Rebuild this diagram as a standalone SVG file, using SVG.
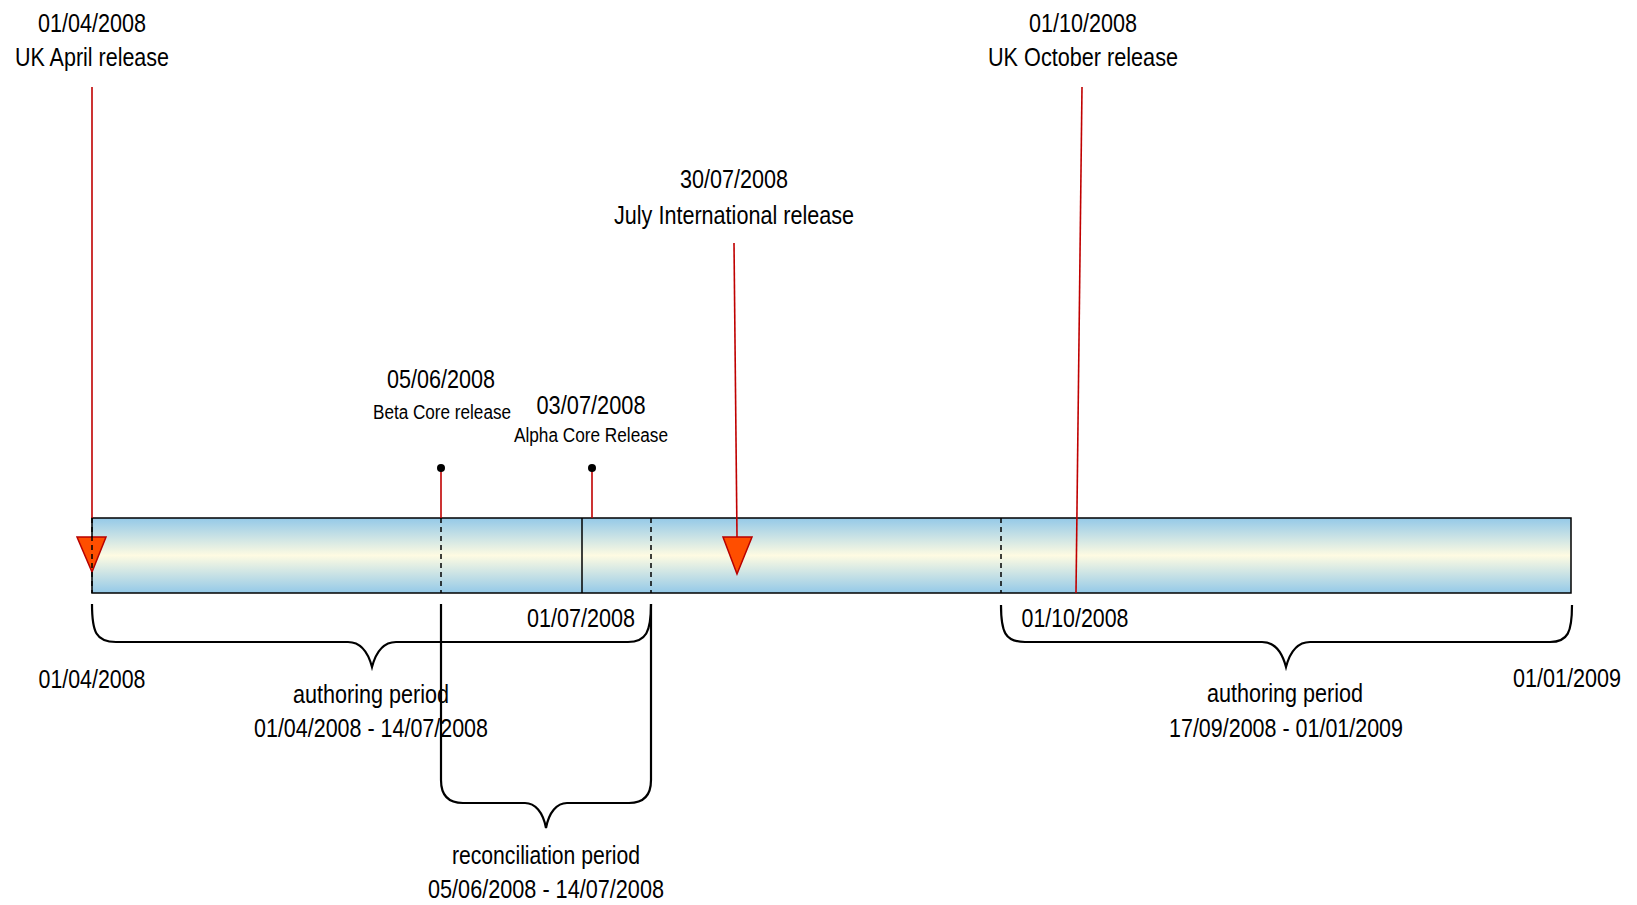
<svg xmlns="http://www.w3.org/2000/svg" width="1637" height="905" viewBox="0 0 1637 905">
<style>
text{font-family:"Liberation Sans",Arial,sans-serif;fill:#000;text-anchor:middle;}
.big{font-size:26.5px;}
.sm{font-size:19.5px;}
.red{stroke:#c00000;stroke-width:1.6;fill:none;}
.dash{stroke:#000;stroke-width:1.5;stroke-dasharray:5,4;fill:none;}
.brace{stroke:#000;stroke-width:2.2;fill:none;}
.tri{fill:#ff4e00;stroke:#b80000;stroke-width:1.5;}
</style>
<defs>
<linearGradient id="barGrad" x1="0" y1="0" x2="0" y2="1">
<stop offset="0" stop-color="#94c9e8"/>
<stop offset="0.5" stop-color="#fefbe2"/>
<stop offset="1" stop-color="#94c9e8"/>
</linearGradient>
</defs>
<rect width="1637" height="905" fill="#fff"/>
<g id="timeline-bar">
<rect x="92" y="518" width="1479" height="75" fill="url(#barGrad)" stroke="#000" stroke-width="1.5"/>
</g>
<g id="connectors">
<line class="red" x1="92" y1="87" x2="92" y2="518"/>
<line class="red" x1="734" y1="243" x2="737" y2="537"/>
<line class="red" x1="441" y1="468" x2="441" y2="518"/>
<line class="red" x1="592" y1="468" x2="592" y2="518"/>
</g>
<g id="uk-april-release">
<polygon class="tri" points="77,537 106,537 92,572"/>
<line class="dash" x1="92" y1="518" x2="92" y2="593"/>
<text class="big" x="92" y="32" textLength="108" lengthAdjust="spacingAndGlyphs">01/04/2008</text>
<text class="big" x="92" y="66" textLength="154" lengthAdjust="spacingAndGlyphs">UK April release</text>
</g>
<g id="beta-core-release">
<circle cx="441" cy="468" r="4" fill="#000"/>
<line class="dash" x1="441" y1="518" x2="441" y2="593"/>
<text class="big" x="441" y="388" textLength="108" lengthAdjust="spacingAndGlyphs">05/06/2008</text>
<text class="sm" x="442" y="419" textLength="138" lengthAdjust="spacingAndGlyphs">Beta Core release</text>
</g>
<g id="alpha-core-release">
<circle cx="592" cy="468" r="4" fill="#000"/>
<text class="big" x="591" y="414" textLength="109" lengthAdjust="spacingAndGlyphs">03/07/2008</text>
<text class="sm" x="591" y="442" textLength="154" lengthAdjust="spacingAndGlyphs">Alpha Core Release</text>
</g>
<g id="july-marker">
<line x1="582" y1="518" x2="582" y2="593" stroke="#000" stroke-width="1.5"/>
<text class="big" x="581" y="627" textLength="108" lengthAdjust="spacingAndGlyphs">01/07/2008</text>
</g>
<g id="recon-end">
<line class="dash" x1="651" y1="518" x2="651" y2="593"/>
</g>
<g id="july-international-release">
<polygon class="tri" points="723,537 752,537 737,574"/>
<text class="big" x="734" y="188" textLength="108" lengthAdjust="spacingAndGlyphs">30/07/2008</text>
<text class="big" x="734" y="224" textLength="240" lengthAdjust="spacingAndGlyphs">July International release</text>
</g>
<g id="authoring2-start">
<line class="dash" x1="1001" y1="518" x2="1001" y2="593"/>
</g>
<g id="uk-october-release">
<line class="red" x1="1082" y1="87" x2="1076" y2="593" stroke-width="1.8"/>
<text class="big" x="1083" y="32" textLength="108" lengthAdjust="spacingAndGlyphs">01/10/2008</text>
<text class="big" x="1083" y="66" textLength="190" lengthAdjust="spacingAndGlyphs">UK October release</text>
<text class="big" x="1075" y="627" textLength="107" lengthAdjust="spacingAndGlyphs">01/10/2008</text>
</g>
<g id="axis-labels">
<text class="big" x="92" y="688" textLength="107" lengthAdjust="spacingAndGlyphs">01/04/2008</text>
<text class="big" x="1567" y="687" textLength="108" lengthAdjust="spacingAndGlyphs">01/01/2009</text>
</g>
<g id="authoring-period-1">
<text class="big" x="371" y="703" textLength="156" lengthAdjust="spacingAndGlyphs">authoring period</text>
<text class="big" x="371" y="737" textLength="234" lengthAdjust="spacingAndGlyphs">01/04/2008 - 14/07/2008</text>
<path class="brace" d="M92,604 C92,632 96,642 116,642 L348,642 C360,642 368,652 372,667 C376,652 384,642 396,642 L628,642 C646,642 651,632 651,604"/>
</g>
<g id="reconciliation-period">
<path class="brace" d="M441,604 L441,780 C441,795 448,803 463,803 L525,803 C535,803 543,812 546,828 C549,812 557,803 567,803 L629,803 C644,803 651,795 651,780 L651,604"/>
<text class="big" x="546" y="864" textLength="188" lengthAdjust="spacingAndGlyphs">reconciliation period</text>
<text class="big" x="546" y="898" textLength="236" lengthAdjust="spacingAndGlyphs">05/06/2008 - 14/07/2008</text>
</g>
<g id="authoring-period-2">
<path class="brace" d="M1001,605 C1001,632 1005,642 1025,642 L1262,642 C1274,642 1282,652 1286,667 C1290,652 1298,642 1310,642 L1550,642 C1568,642 1572,632 1572,605"/>
<text class="big" x="1285" y="702" textLength="156" lengthAdjust="spacingAndGlyphs">authoring period</text>
<text class="big" x="1286" y="737" textLength="234" lengthAdjust="spacingAndGlyphs">17/09/2008 - 01/01/2009</text>
</g>
</svg>
